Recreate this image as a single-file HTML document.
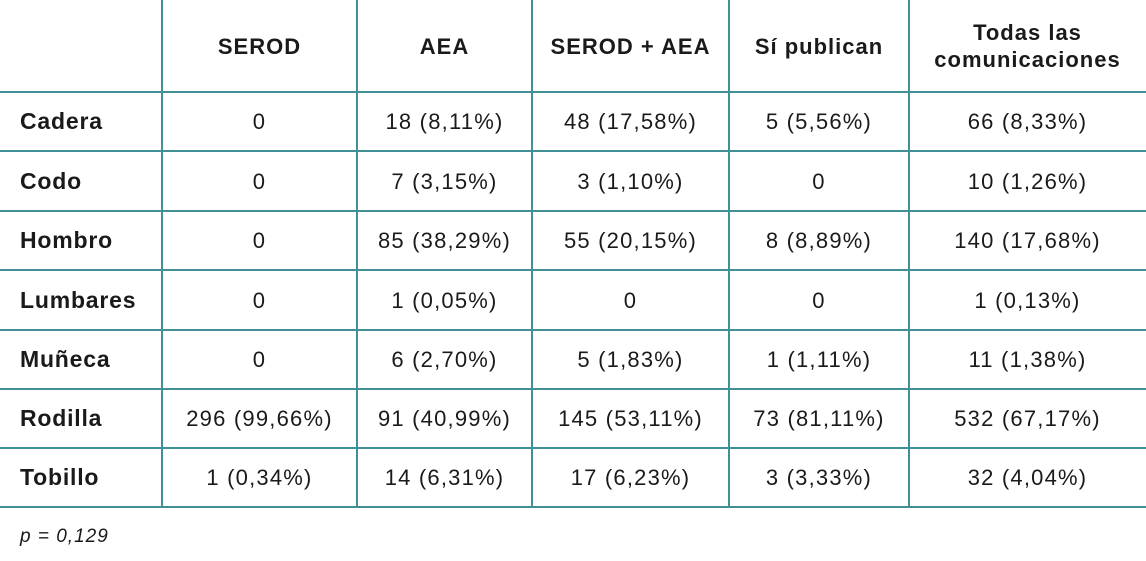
<!DOCTYPE html>
<html><head><meta charset="utf-8"><style>
body{margin:0;width:1146px;height:561px;background:#fff;position:relative;overflow:hidden;font-family:"Liberation Sans",sans-serif;color:#1a1a1a}
.h{position:absolute;left:0;width:1146px;height:2px;background:#3f9197}
.v{position:absolute;top:0;width:2px;height:508px;background:#3f9197}
.c{position:absolute;display:flex;align-items:center;justify-content:center;text-align:center;font-size:22px;line-height:27px;letter-spacing:1.2px}
.b{font-weight:bold;font-size:22px;letter-spacing:1px}
.l{justify-content:flex-start;padding-left:20px;font-weight:bold;font-size:23px;letter-spacing:0.8px}
</style></head><body>
<div class="h" style="top:91px"></div><div class="h" style="top:150px"></div><div class="h" style="top:210px"></div><div class="h" style="top:269px"></div><div class="h" style="top:329px"></div><div class="h" style="top:388px"></div><div class="h" style="top:447px"></div><div class="h" style="top:506px"></div>
<div class="v" style="left:161px"></div><div class="v" style="left:356px"></div><div class="v" style="left:531px"></div><div class="v" style="left:728px"></div><div class="v" style="left:908px"></div>
<div id="t"></div>
<div style="position:absolute;left:20px;top:526px;font-size:19px;font-style:italic;letter-spacing:1px">p = 0,129</div>
<script>
var xs=[0,162,357,532,729,909,1146];
var ys=[0,92,151,211,270,330,389,448,507];
var rows=[["","SEROD","AEA","SEROD + AEA","Sí publican","Todas las<br>comunicaciones"],
["Cadera","0","18 (8,11%)","48 (17,58%)","5 (5,56%)","66 (8,33%)"],
["Codo","0","7 (3,15%)","3 (1,10%)","0","10 (1,26%)"],
["Hombro","0","85 (38,29%)","55 (20,15%)","8 (8,89%)","140 (17,68%)"],
["Lumbares","0","1 (0,05%)","0","0","1 (0,13%)"],
["Muñeca","0","6 (2,70%)","5 (1,83%)","1 (1,11%)","11 (1,38%)"],
["Rodilla","296 (99,66%)","91 (40,99%)","145 (53,11%)","73 (81,11%)","532 (67,17%)"],
["Tobillo","1 (0,34%)","14 (6,31%)","17 (6,23%)","3 (3,33%)","32 (4,04%)"]];
var h="";
rows.forEach(function(r,i){r.forEach(function(t,j){
var cls="c"+(i==0?" b":"")+(j==0?" l":"");
var w=xs[j+1]-xs[j]-(j==0?20:0);
h+='<div class="'+cls+'" style="left:'+xs[j]+'px;top:'+ys[i]+'px;width:'+w+'px;height:'+(ys[i+1]-ys[i])+'px">'+t+'</div>';});});
document.getElementById("t").innerHTML=h;
</script>
</body></html>
